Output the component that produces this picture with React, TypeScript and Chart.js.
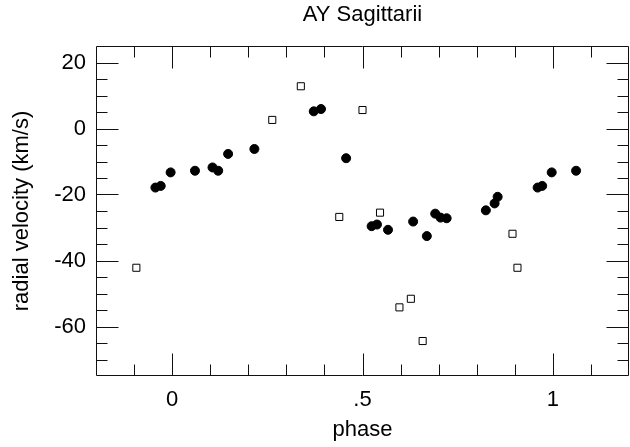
import React, { useEffect, useRef } from "react";
import { Chart, registerables } from "chart.js";

Chart.register(...registerables);

// Filled circles (phase, radial velocity km/s)
const circlePhase = [-0.044, -0.030, -0.004, 0.060, 0.106, 0.121, 0.147, 0.216, 0.372, 0.391, 0.457, 0.524, 0.538, 0.567, 0.633, 0.669, 0.691, 0.705, 0.721, 0.824, 0.847, 0.855, 0.960, 0.972, 0.997, 1.061];
const circleVel = [-17.9, -17.4, -13.3, -12.8, -11.8, -12.8, -7.7, -6.2, 5.2, 5.9, -9.0, -29.6, -29.1, -30.7, -28.2, -32.6, -25.8, -27.0, -27.2, -24.8, -22.7, -20.7, -17.9, -17.4, -13.3, -12.8];

// Open squares
const squarePhase = [-0.094, 0.263, 0.338, 0.439, 0.500, 0.546, 0.597, 0.627, 0.658, 0.894, 0.907];
const squareVel = [-42.2, 2.6, 12.8, -26.8, 5.6, -25.5, -54.2, -51.6, -64.4, -31.9, -42.2];

// Axes
const xMin = -0.2;
const xMax = 1.2;
const yMin = -75;
const yMax = 25;
const xMajorTicks = [0, 0.5, 1];
const xTickLabels = ["0", ".5", "1"];
const xMinorTicks = [-0.1, 0.1, 0.2, 0.3, 0.4, 0.6, 0.7, 0.8, 0.9, 1.1];
const yMajorTicks = [-60, -40, -20, 0, 20];
const yTickLabels = ["-60", "-40", "-20", "0", "20"];
const yMinorTicks = [-70, -65, -55, -50, -45, -35, -30, -25, -15, -10, -5, 5, 10, 15];

const FONT = "'Liberation Sans', Arial, Helvetica, sans-serif";

const frameTicksPlugin = {
  id: "frameTicks",
  beforeDatasetsDraw(chart: any) {
    const { ctx, chartArea, scales } = chart;
    const { left, right, top, bottom } = chartArea;
    const xs = scales.x;
    const ys = scales.y;
    const MAJOR = 22;
    const MINOR = 11;
    ctx.save();
    ctx.strokeStyle = "#111";
    ctx.lineWidth = 1;
    ctx.beginPath();
    const L = Math.round(left) + 0.5;
    const R = Math.round(right) - 0.5;
    const T = Math.round(top) + 0.5;
    const B = Math.round(bottom) - 0.5;
    ctx.moveTo(L, T);
    ctx.lineTo(R, T);
    ctx.lineTo(R, B);
    ctx.lineTo(L, B);
    ctx.closePath();
    const xTick = (v: number, len: number) => {
      const px = Math.round(xs.getPixelForValue(v)) + 0.5;
      ctx.moveTo(px, B);
      ctx.lineTo(px, B - len);
      ctx.moveTo(px, T);
      ctx.lineTo(px, T + len);
    };
    const yTick = (v: number, len: number) => {
      const py = Math.round(ys.getPixelForValue(v)) + 0.5;
      ctx.moveTo(L, py);
      ctx.lineTo(L + len, py);
      ctx.moveTo(R, py);
      ctx.lineTo(R - len, py);
    };
    xMajorTicks.forEach((v) => xTick(v, MAJOR));
    xMinorTicks.forEach((v) => xTick(v, MINOR));
    yMajorTicks.forEach((v) => yTick(v, MAJOR));
    yMinorTicks.forEach((v) => yTick(v, MINOR));
    ctx.stroke();
    ctx.restore();
  },
};

export default function App() {
  const canvasRef = useRef<HTMLCanvasElement | null>(null);

  useEffect(() => {
    if (!canvasRef.current) return;
    const chart = new Chart(canvasRef.current, {
      type: "scatter",
      data: {
        datasets: [
          {
            label: "filled",
            data: circlePhase.map((p, i) => ({ x: p, y: circleVel[i] })),
            pointStyle: "circle",
            pointRadius: 4.5,
            borderWidth: 1,
            backgroundColor: "#000",
            borderColor: "#000",
          },
          {
            label: "open",
            data: squarePhase.map((p, i) => ({ x: p, y: squareVel[i] })),
            pointStyle: "rect",
            pointRadius: 5,
            borderWidth: 1,
            backgroundColor: "rgba(255,255,255,0)",
            borderColor: "#000",
          },
        ],
      },
      options: {
        animation: false,
        responsive: false,
        devicePixelRatio: 1,
        layout: { autoPadding: false, padding: { left: 0, right: 1, top: 0, bottom: 0 } },
        plugins: {
          legend: { display: false },
          tooltip: { enabled: false },
          title: {
            display: true,
            text: "AY Sagittarii",
            fullSize: false,
            color: "#000",
            font: { family: FONT, size: 22, weight: "normal" },
            padding: { top: 2, bottom: 17.6 },
          },
        },
        scales: {
          x: {
            type: "linear",
            min: xMin,
            max: xMax,
            afterFit: (s: any) => {
              s.height = 71;
            },
            afterBuildTicks: (s: any) => {
              s.ticks = xMajorTicks.map((v) => ({ value: v }));
            },
            grid: { display: false, drawTicks: false },
            border: { display: false },
            ticks: {
              padding: 11,
              color: "#000",
              font: { family: FONT, size: 22 },
              maxRotation: 0,
              autoSkip: false,
              callback: (v: any) => {
                const i = xMajorTicks.indexOf(Number(v));
                return i >= 0 ? xTickLabels[i] : "";
              },
            },
            title: {
              display: true,
              text: "phase",
              color: "#000",
              font: { family: FONT, size: 22 },
              padding: { top: 0, bottom: 4 },
            },
          },
          y: {
            type: "linear",
            min: yMin,
            max: yMax,
            afterFit: (s: any) => {
              s.width = 96;
            },
            afterBuildTicks: (s: any) => {
              s.ticks = yMajorTicks.map((v) => ({ value: v }));
            },
            grid: { display: false, drawTicks: false },
            border: { display: false },
            ticks: {
              padding: 10,
              color: "#000",
              font: { family: FONT, size: 22 },
              autoSkip: false,
              callback: (v: any) => {
                const i = yMajorTicks.indexOf(Number(v));
                return i >= 0 ? yTickLabels[i] : "";
              },
            },
            title: {
              display: true,
              text: "radial velocity (km/s)",
              color: "#000",
              font: { family: FONT, size: 22 },
              padding: { top: 9, bottom: 0 },
            },
          },
        },
      },
      plugins: [frameTicksPlugin],
    });
    return () => chart.destroy();
  }, []);

  return (
    <div style={{ position: "absolute", left: 0, top: 0, width: 630, height: 447, background: "#fff" }}>
      <canvas ref={canvasRef} width={630} height={447} style={{ display: "block" }} />
    </div>
  );
}
